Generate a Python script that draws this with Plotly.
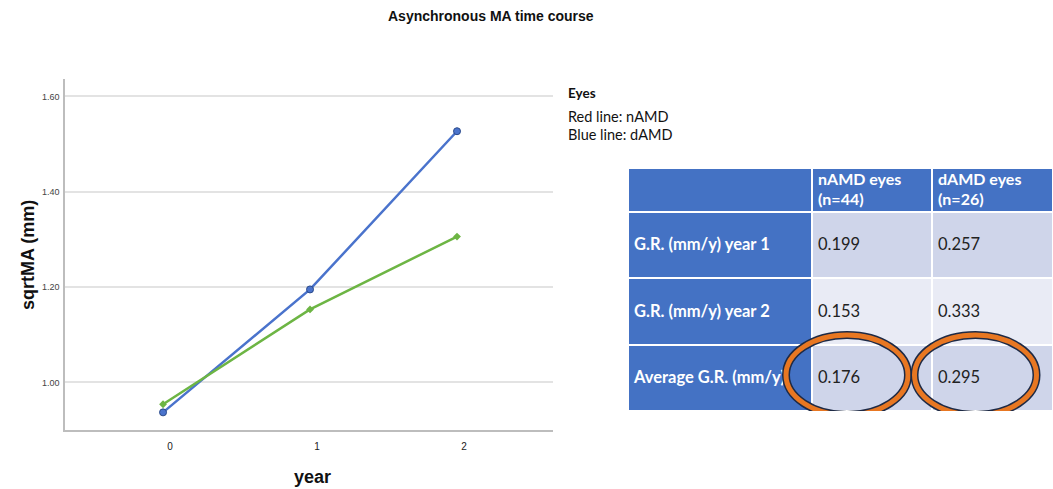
import plotly.graph_objects as go

# ---------------- data ----------------
chart_title = "Asynchronous MA time course"
years = [0, 1, 2]
damd_sqrtma = [0.937, 1.195, 1.527]   # blue line
namd_sqrtma = [0.954, 1.153, 1.306]   # green line
y_ticks = [1.00, 1.20, 1.40, 1.60]
y_tick_text = ["1.00", "1.20", "1.40", "1.60"]

legend_title = "Eyes"
legend_lines = ["Red line: nAMD", "Blue line: dAMD"]

table_headers = ["", "nAMD eyes<br>(n=44)", "dAMD eyes<br>(n=26)"]
row_labels = ["G.R. (mm/y) year 1", "G.R. (mm/y) year 2", "Average G.R. (mm/y)"]
namd_gr = ["0.199", "0.153", "0.176"]
damd_gr = ["0.257", "0.333", "0.295"]

# ---------------- layout constants ----------------
W, H = 1053, 489
def px(x): return x / W
def py(y): return 1 - y / H

BLUE = "#4472C4"
LIGHT1 = "#CFD5EA"
LIGHT2 = "#E9EBF5"
col_widths = [184, 120, 121]
row_heights = [44, 66, 67, 66]

fig = go.Figure()

# main lines
fig.add_trace(go.Scatter(x=years, y=damd_sqrtma, mode="lines+markers",
                         line=dict(color="#4A73CC", width=2.5),
                         marker=dict(color="#4A73CC", size=7, line=dict(color="#2B4A8A", width=1)),
                         showlegend=False, hoverinfo="skip"))
fig.add_trace(go.Scatter(x=years, y=namd_sqrtma, mode="lines+markers",
                         line=dict(color="#6DB544", width=2.5),
                         marker=dict(color="#6DB544", size=6, symbol="diamond"),
                         showlegend=False, hoverinfo="skip"))

# ---------------- table (in x2/y2 pixel-like units) ----------------
col_edges = [0]
for w in col_widths:
    col_edges.append(col_edges[-1] + w)
row_edges = [0]
for h in row_heights:
    row_edges.append(row_edges[-1] + h)

shapes = []
for r in range(len(row_heights)):
    for c in range(len(col_widths)):
        if r == 0 or c == 0:
            fill = BLUE
        else:
            fill = LIGHT1 if r % 2 == 1 else LIGHT2
        shapes.append(dict(type="rect", xref="x2", yref="y2",
                           x0=col_edges[c], x1=col_edges[c + 1],
                           y0=row_edges[r], y1=row_edges[r + 1],
                           fillcolor=fill, line=dict(color="white", width=2),
                           layer="below"))

# text cells
tx, ty, tt, tc, ts = [], [], [], [], []
for c in range(1, 3):
    tx.append(col_edges[c] + 6)
    ty.append((row_edges[0] + row_edges[1]) / 2 + 1)
    tt.append("<b>" + table_headers[c] + "</b>")
    tc.append("white"); ts.append(16)
for r, lab in enumerate(row_labels):
    yc = (row_edges[r + 1] + row_edges[r + 2]) / 2 + 1
    tx.append(col_edges[0] + 6); ty.append(yc); tt.append("<b>" + lab + "</b>"); tc.append("white"); ts.append(16.5)
    tx.append(col_edges[1] + 6); ty.append(yc); tt.append(namd_gr[r]); tc.append("#222222"); ts.append(16.5)
    tx.append(col_edges[2] + 6); ty.append(yc); tt.append(damd_gr[r]); tc.append("#222222"); ts.append(16.5)

fig.add_trace(go.Scatter(x=tx, y=ty, text=tt, mode="text", textposition="middle right",
                         textfont=dict(family="Lato", size=ts, color=tc),
                         xaxis="x2", yaxis="y2", showlegend=False, hoverinfo="skip"))

# highlight ellipses around the average row values
last_row_top = row_edges[3]
last_row_bot = row_edges[4]
for c, shift in [(1, -25), (2, -17)]:
    cx = (col_edges[c] + col_edges[c + 1]) / 2 + shift
    cy = (last_row_top + last_row_bot) / 2 - 3
    for color, width in [("#1E2A45", 8), ("#E87722", 5)]:
        shapes.append(dict(type="circle", xref="x2", yref="y2",
                           x0=cx - 61, x1=cx + 61, y0=cy - 40, y1=cy + 40,
                           line=dict(color=color, width=width), layer="above"))

annotations = [
    dict(text="<b>" + chart_title + "</b>", x=px(491), y=py(16), xref="paper", yref="paper",
         showarrow=False, font=dict(family="Liberation Sans", size=14, color="#111"),
         xanchor="center", yanchor="middle"),
    dict(text="<b>sqrtMA (mm)</b>", x=px(28), y=py(255), xref="paper", yref="paper",
         showarrow=False, textangle=-90, font=dict(family="Liberation Sans", size=18, color="#111"),
         xanchor="center", yanchor="middle"),
    dict(text="<b>year</b>", x=px(312), y=py(477), xref="paper", yref="paper",
         showarrow=False, font=dict(family="Liberation Sans", size=18, color="#111"),
         xanchor="center", yanchor="middle"),
    dict(text="<b>" + legend_title + "</b>", x=px(566), y=py(93), xref="paper", yref="paper",
         showarrow=False, font=dict(family="Lato", size=13.5, color="#111"),
         xanchor="left", yanchor="middle"),
]
for i, line in enumerate(legend_lines):
    annotations.append(dict(text=line, x=px(566), y=py(116 + 18 * i), xref="paper", yref="paper",
                            showarrow=False, font=dict(family="Lato", size=14.5, color="#111"),
                            xanchor="left", yanchor="middle"))

fig.update_layout(
    width=W, height=H,
    margin=dict(l=0, r=0, t=0, b=0),
    paper_bgcolor="white", plot_bgcolor="white",
    xaxis=dict(domain=[px(65), px(553)], range=[-0.667, 2.653],
               tickvals=years, ticktext=[str(y) for y in years],
               showline=True, linecolor="#BDBDBD", linewidth=1.5,
               showgrid=False, zeroline=False,
               ticks="outside", ticklen=6, tickcolor="rgba(0,0,0,0)",
               ticklabelshift=7,
               tickfont=dict(family="Liberation Sans", size=10, color="#222")),
    yaxis=dict(domain=[py(430), py(79)], range=[0.90, 1.6366],
               tickvals=y_ticks, ticktext=y_tick_text,
               showline=True, linecolor="#BDBDBD", linewidth=1.5,
               showgrid=True, gridcolor="#E3E3E3", gridwidth=1.5, zeroline=False,
               ticks="outside", ticklen=2, tickcolor="rgba(0,0,0,0)",
               tickfont=dict(family="Liberation Sans", size=9, color="#444")),
    xaxis2=dict(domain=[px(628), 1.0], range=[0, sum(col_widths)], visible=False,
                anchor="y2", fixedrange=True),
    yaxis2=dict(domain=[py(411), py(168)], range=[sum(row_heights), 0], visible=False,
                anchor="x2", fixedrange=True),
    shapes=shapes,
    annotations=annotations,
)

fig.write_html("out.html", config={"displayModeBar": False},
               post_script="document.body.style.margin='0';document.body.style.overflow='hidden';")
